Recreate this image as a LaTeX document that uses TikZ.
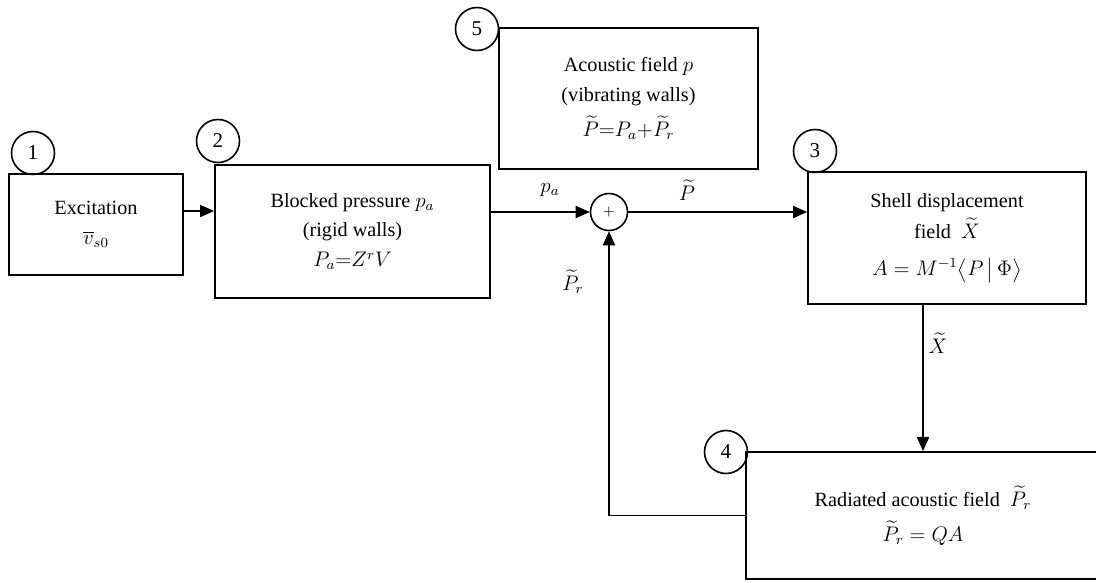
\documentclass[tikz,border=0pt]{standalone}
\usepackage{amsmath}
\usepackage{amssymb}
\usepackage{fontspec}
\setmainfont{Liberation Serif}
\usetikzlibrary{
    positioning,
    arrows.meta
}
\tikzset{
    >={Triangle[length=8pt,width=7pt]},
    bloque/.style={
        draw,
        line width=1.1pt,
        align=center,
        inner sep=2pt,
        font=\fontsize{11.5}{17}\selectfont
    },
    numero/.style={
        draw,
        circle,
        line width=0.9pt,
        minimum size=0.86cm,
        inner sep=0pt,
        font=\fontsize{12}{14}\selectfont
    },
    suma/.style={
        draw,
        circle,
        line width=0.9pt,
        minimum size=0.74cm,
        inner sep=0pt,
        font=\footnotesize
    },
    etiqueta/.style={
        font=\fontsize{11.5}{14}\selectfont
    }
}

\begin{document}
\begin{tikzpicture}[
    x=0.02cm,
    y=-0.02cm,
    line width=0.6pt
]
    \useasboundingbox (0,0) rectangle (1096,582);

    % Bloques
    \node[bloque, minimum width=3.48cm, minimum height=2.02cm] (exc)   at (96,224.5)  {Excitation\\$\overline{v}_{s0}$};
    \node[bloque, minimum width=5.50cm, minimum height=2.66cm] (blk)   at (352.5,231.5) {Blocked pressure $p_a$\\(rigid walls)\\$P_a{=}Z^rV$};
    \node[bloque, minimum width=5.18cm, minimum height=2.82cm] (afld)  at (628.5,98.5) {Acoustic field $p$\\(vibrating walls)\\[3pt]$\widetilde{P}{=}P_a{+}\widetilde{P}_r$};
    \node[bloque, minimum width=5.56cm, minimum height=2.64cm] (shell) at (947,238)   {Shell displacement\\[1pt]field\ \ $\widetilde{X}$\\[4pt]$A=M^{-1}\big\langle P\,\big|\,\Phi\big\rangle$};
    \node[bloque, minimum width=7.08cm, minimum height=2.54cm] (rad)   at (923,515.5) {Radiated acoustic field\ \ $\widetilde{P}_r$\\[3pt]$\widetilde{P}_r = QA$};
    \node[suma] (sum) at (609,212) {$+$};

    % Numeros
    \node[numero] (n1) at (33,153)  {1};
    \node[numero] (n2) at (218,141) {2};
    \node[numero] (n3) at (815,151) {3};
    \node[numero] (n4) at (726,452) {4};
    \node[numero] (n5) at (477,29)  {5};

    % Etiquetas
    \node[etiqueta] (lpa) at (550,190) {$p_a$};
    \node[etiqueta] (lp)  at (687,190) {$\widetilde{P}$};
    \node[etiqueta] (lpr) at (573,282) {$\widetilde{P}_r$};
    \node[etiqueta] (lx)  at (938,343) {$\widetilde{X}$};

    % Conexiones
    \path[->]
        ([yshift=0.27cm]exc.east)
            edge ([yshift=0.27cm]exc.east -| blk.west)

        (sum.west -| blk.east)
            edge (sum.west)

        (sum.east)
            edge (sum.east -| shell.west)

        (shell.south -| rad.north)
            edge (rad.north);

    \draw[->] (rad.west) -- (rad.west -| sum.south) -- (sum.south);

\end{tikzpicture}
\end{document}
